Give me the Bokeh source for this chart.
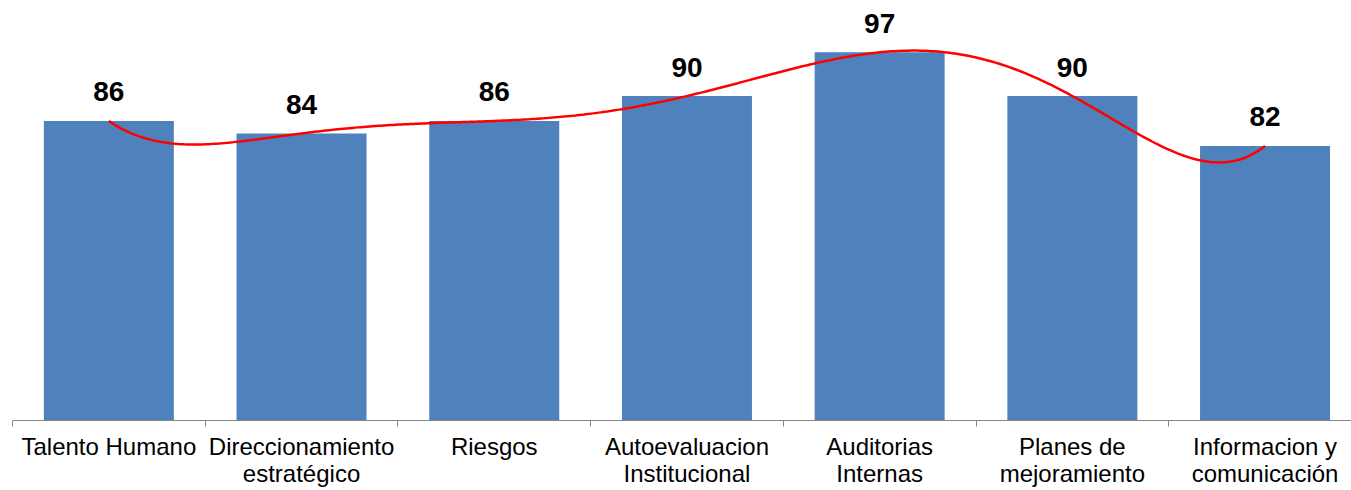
import numpy as np
from bokeh.plotting import figure
from bokeh.models import Range1d, FixedTicker, ColumnDataSource
from bokeh.core.properties import value
from bokeh.embed import file_html
from bokeh.resources import INLINE

categories = ["Talento Humano", "Direccionamiento\nestratégico", "Riesgos",
              "Autoevaluacion\nInstitucional", "Auditorias\nInternas",
              "Planes de\nmejoramiento", "Informacion y\ncomunicación"]
values = [86, 84, 86, 90, 97, 90, 82]

FONT = "Liberation Sans"
cat_w = 192.7          # px per category
px_per_unit = 6.24
y0 = 38
left = 12
W, H = 1351, 490
frame_h = 420

centers = [i + 0.5 for i in range(len(categories))]
bounds = list(range(len(categories) + 1))

p = figure(width=W, height=H, output_backend="svg", toolbar_location=None,
           x_range=Range1d(0, (W - left) / cat_w),
           y_range=Range1d(y0, y0 + frame_h / px_per_unit),
           min_border_left=left, min_border_right=0, min_border_top=0,
           min_border_bottom=H - frame_h)
p.outline_line_color = None
p.grid.visible = False
p.yaxis.visible = False
p.background_fill_color = "white"

src = ColumnDataSource(dict(x=centers, top=values,
                            lab=[str(v) for v in values]))
p.vbar(x="x", top="top", bottom=y0, width=130 / cat_w, source=src,
       fill_color="#4F81BD", line_color=None)

# polynomial trendline (order 6) through the series
poly = np.polynomial.Polynomial.fit(centers, values, len(values) - 1)
xs = np.linspace(centers[0], centers[-1], 400)
p.line(xs, poly(xs), line_color="#FF0000", line_width=2.5)

p.text(x="x", y="top", text="lab", source=src, y_offset=-29,
       text_align="center", text_baseline="alphabetic",
       text_font=value(FONT), text_font_style="bold",
       text_font_size="28px", text_color="black")

ax = p.xaxis[0]
ax.ticker = FixedTicker(ticks=centers, minor_ticks=bounds)
ax.major_label_overrides = {c: n for c, n in zip(centers, categories)}
ax.major_label_text_font = FONT
ax.major_label_text_font_size = "24px"
ax.major_label_text_color = "black"
ax.major_label_text_line_height = 1.0
ax.major_label_standoff = 6
ax.axis_line_color = "#868686"
ax.axis_line_width = 1
ax.major_tick_line_color = None
ax.major_tick_out = 0
ax.major_tick_in = 0
ax.minor_tick_line_color = "#868686"
ax.minor_tick_out = 6
ax.minor_tick_in = 0

open("out.html", "w").write(file_html(p, INLINE))
